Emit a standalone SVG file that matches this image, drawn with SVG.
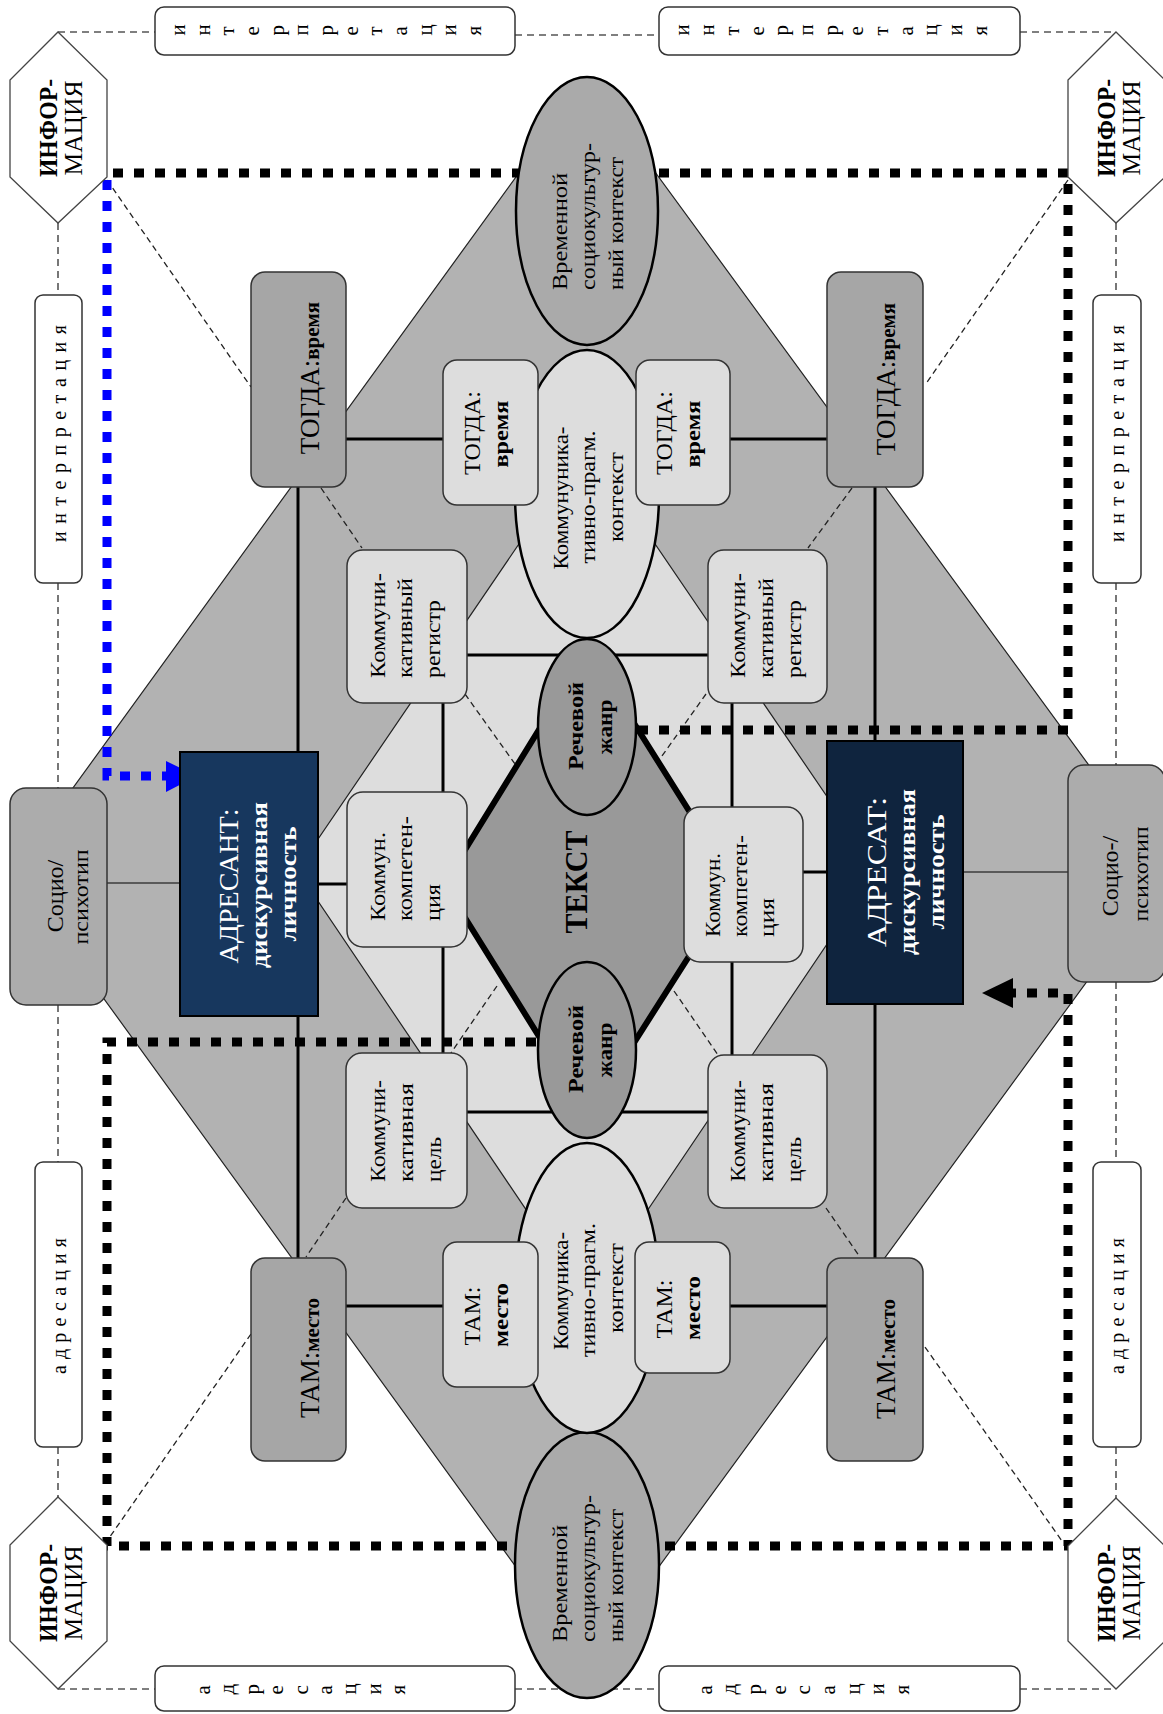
<svg xmlns="http://www.w3.org/2000/svg" width="1163" height="1714" viewBox="0 0 1163 1714">
<style>
.t{font-family:"Liberation Serif","Times New Roman",serif;fill:#000}
.m{font-family:"Liberation Serif","Times New Roman",serif;fill:#000}
.b{font-weight:bold}
.w{fill:#fff}
.mid{text-anchor:middle}
.dk{fill:#a6a6a6;stroke:#333;stroke-width:1.5}
.lt{fill:#dddddd;stroke:#333;stroke-width:1.5}
.wb{fill:#fff;stroke:#333;stroke-width:1.5}
.hx{fill:#fff;stroke:#444;stroke-width:1.3}
.el{stroke:#000;stroke-width:2.5}
.frame{stroke:#555;stroke-width:1.6;stroke-dasharray:7 5;fill:none}
.dash{stroke:#222;stroke-width:1.3;stroke-dasharray:6 4;fill:none}
.sol{stroke:#000;stroke-width:3;fill:none}
.thin{stroke:#000;stroke-width:1.2;fill:none}
.dot{stroke-width:9;stroke-dasharray:10 11;fill:none}
</style>

<g id="background">
<polygon points="587,79 1167,872 587,1665 12,872" fill="#b2b2b2" stroke="#222" stroke-width="1.2"/>
<polygon points="587,444 877,870 587,1300 297,870" fill="#dddddd" stroke="#222" stroke-width="1.2"/>
</g>

<g id="text-core-shape">
<polygon points="588,650 735,884 588,1115 444,884" fill="#999999" stroke="#000" stroke-width="6"/>
</g>

<g id="connectors">
<line class="frame" x1="58" y1="32" x2="155" y2="32"/>
<line class="frame" x1="515" y1="35" x2="659" y2="35"/>
<line class="frame" x1="1020" y1="32" x2="1116" y2="32"/>
<line class="frame" x1="58" y1="1689" x2="155" y2="1689"/>
<line class="frame" x1="515" y1="1689" x2="659" y2="1689"/>
<line class="frame" x1="1020" y1="1689" x2="1116" y2="1689"/>
<line class="frame" x1="58" y1="223" x2="58" y2="295"/>
<line class="frame" x1="58" y1="583" x2="58" y2="788"/>
<line class="frame" x1="58" y1="1005" x2="58" y2="1162"/>
<line class="frame" x1="58" y1="1447" x2="58" y2="1497"/>
<line class="frame" x1="1116" y1="223" x2="1116" y2="295"/>
<line class="frame" x1="1116" y1="583" x2="1116" y2="765"/>
<line class="frame" x1="1116" y1="982" x2="1116" y2="1162"/>
<line class="frame" x1="1116" y1="1447" x2="1116" y2="1499"/>

<line class="dash" x1="107" y1="180" x2="251" y2="387"/>
<line class="dash" x1="1068" y1="180" x2="925" y2="385"/>
<line class="dash" x1="321" y1="488" x2="362" y2="548"/>
<line class="dash" x1="852" y1="488" x2="808" y2="548"/>
<line class="dash" x1="465" y1="694" x2="515" y2="764"/>
<line class="dash" x1="706" y1="694" x2="662" y2="756"/>
<line class="dash" x1="497" y1="986" x2="451" y2="1053"/>
<line class="dash" x1="674" y1="991" x2="718" y2="1055"/>
<line class="dash" x1="346" y1="1198" x2="306" y2="1257"/>
<line class="dash" x1="826" y1="1208" x2="860" y2="1257"/>
<line class="dash" x1="251" y1="1334" x2="107" y2="1541"/>
<line class="dash" x1="925" y1="1347" x2="1062" y2="1541"/>

<line class="sol" x1="298" y1="487" x2="298" y2="752"/>
<line class="sol" x1="298" y1="1016" x2="298" y2="1258"/>
<line class="sol" x1="875" y1="487" x2="875" y2="741"/>
<line class="sol" x1="875" y1="1004" x2="875" y2="1258"/>
<line class="sol" x1="346" y1="439" x2="443" y2="439"/>
<line class="sol" x1="730" y1="439" x2="827" y2="439"/>
<line class="sol" x1="346" y1="1306" x2="443" y2="1306"/>
<line class="sol" x1="730" y1="1306" x2="827" y2="1306"/>
<line class="sol" x1="467" y1="655" x2="708" y2="655"/>
<line class="sol" x1="443" y1="703" x2="443" y2="792"/>
<line class="sol" x1="732" y1="703" x2="732" y2="807"/>
<line class="sol" x1="443" y1="947" x2="443" y2="1053"/>
<line class="sol" x1="732" y1="962" x2="732" y2="1055"/>
<line class="sol" x1="467" y1="1112" x2="708" y2="1112"/>
<line class="sol" x1="318" y1="884" x2="347" y2="884"/>
<line class="sol" x1="803" y1="872" x2="827" y2="872"/>
<line class="thin" x1="88" y1="883" x2="180" y2="883"/>
<line class="thin" x1="963" y1="872" x2="1068" y2="872"/>

<path class="dot" stroke="#000" d="M638 730 H1068 V173 H107"/>
<path class="dot" stroke="#000" d="M536 1042 H107 V1546 H1068 V993 H1013"/>
<polygon points="1013,978 1013,1008 982,993" fill="#000"/>
<path class="dot" stroke="#0000ff" d="M107 180 V776 H166"/>
<polygon points="166,761 166,792 197,776" fill="#0000ff"/>
</g>

<g id="node-time-top">
<ellipse class="el" cx="587" cy="211" rx="71" ry="134" fill="#aaaaaa"/>
<text class="m" font-size="22" transform="translate(567,290) rotate(-90)" textLength="117" lengthAdjust="spacingAndGlyphs">Временной</text>
<text class="m" font-size="22" transform="translate(595,290) rotate(-90)" textLength="147" lengthAdjust="spacingAndGlyphs">социокультур-</text>
<text class="m" font-size="22" transform="translate(623,290) rotate(-90)" textLength="133" lengthAdjust="spacingAndGlyphs">ный контекст</text>
</g>

<g id="node-time-bottom">
<ellipse class="el" cx="587" cy="1565" rx="72" ry="133" fill="#aaaaaa"/>
<text class="m" font-size="22" transform="translate(567,1642) rotate(-90)" textLength="117" lengthAdjust="spacingAndGlyphs">Временной</text>
<text class="m" font-size="22" transform="translate(595,1642) rotate(-90)" textLength="147" lengthAdjust="spacingAndGlyphs">социокультур-</text>
<text class="m" font-size="22" transform="translate(623,1642) rotate(-90)" textLength="133" lengthAdjust="spacingAndGlyphs">ный контекст</text>
</g>

<g id="node-comm-top">
<ellipse class="el" cx="587" cy="494" rx="72" ry="144" fill="#dddddd"/>
<text class="m mid" font-size="22" transform="translate(568,498) rotate(-90)" textLength="143" lengthAdjust="spacingAndGlyphs">Коммунуника-</text>
<text class="m mid" font-size="22" transform="translate(595,497) rotate(-90)" textLength="133" lengthAdjust="spacingAndGlyphs">тивно-прагм.</text>
<text class="m mid" font-size="22" transform="translate(623,497) rotate(-90)" textLength="90" lengthAdjust="spacingAndGlyphs">контекст</text>
</g>

<g id="node-comm-bottom">
<ellipse class="el" cx="587" cy="1288" rx="72" ry="145" fill="#dddddd"/>
<text class="m mid" font-size="22" transform="translate(568,1291) rotate(-90)" textLength="118" lengthAdjust="spacingAndGlyphs">Коммуника-</text>
<text class="m mid" font-size="22" transform="translate(595,1290) rotate(-90)" textLength="134" lengthAdjust="spacingAndGlyphs">тивно-прагм.</text>
<text class="m mid" font-size="22" transform="translate(623,1288) rotate(-90)" textLength="90" lengthAdjust="spacingAndGlyphs">контекст</text>
</g>

<g id="node-genre-top">
<ellipse class="el" cx="587" cy="727" rx="49" ry="88" fill="#999999"/>
<text class="t b mid" font-size="22" transform="translate(583,726) rotate(-90)" textLength="88" lengthAdjust="spacingAndGlyphs">Речевой</text>
<text class="t b mid" font-size="22" transform="translate(612,727) rotate(-90)" textLength="55" lengthAdjust="spacingAndGlyphs">жанр</text>
</g>

<g id="node-genre-bottom">
<ellipse class="el" cx="587" cy="1050" rx="49" ry="88" fill="#999999"/>
<text class="t b mid" font-size="22" transform="translate(583,1049) rotate(-90)" textLength="88" lengthAdjust="spacingAndGlyphs">Речевой</text>
<text class="t b mid" font-size="22" transform="translate(612,1050) rotate(-90)" textLength="55" lengthAdjust="spacingAndGlyphs">жанр</text>
</g>

<g id="node-text">
<text class="t b mid" font-size="32" transform="translate(587,882) rotate(-90)" textLength="103" lengthAdjust="spacingAndGlyphs">ТЕКСТ</text>
</g>

<g id="node-togda-outer-left">
<rect class="dk" x="251" y="272" width="95" height="215" rx="14"/>
<text class="mid" transform="translate(319,378) rotate(-90)"><tspan class="t" font-size="27">ТОГДА:</tspan><tspan class="m b" font-size="21">время</tspan></text>
</g>
<g id="node-togda-outer-right">
<rect class="dk" x="827" y="272" width="96" height="215" rx="14"/>
<text class="mid" transform="translate(895,379) rotate(-90)"><tspan class="t" font-size="27">ТОГДА:</tspan><tspan class="m b" font-size="21">время</tspan></text>
</g>
<g id="node-tam-outer-left">
<rect class="dk" x="251" y="1258" width="95" height="203" rx="14"/>
<text class="mid" transform="translate(319,1358) rotate(-90)"><tspan class="t" font-size="27">ТАМ:</tspan><tspan class="m b" font-size="21">место</tspan></text>
</g>
<g id="node-tam-outer-right">
<rect class="dk" x="827" y="1258" width="96" height="203" rx="14"/>
<text class="mid" transform="translate(895,1359) rotate(-90)"><tspan class="t" font-size="27">ТАМ:</tspan><tspan class="m b" font-size="21">место</tspan></text>
</g>

<g id="node-togda-inner-left">
<rect class="lt" x="443" y="360" width="95" height="145" rx="14"/>
<text class="t mid" font-size="24" transform="translate(480,433) rotate(-90)">ТОГДА:</text>
<text class="m b mid" font-size="22" transform="translate(508,434) rotate(-90)" textLength="67" lengthAdjust="spacingAndGlyphs">время</text>
</g>
<g id="node-togda-inner-right">
<rect class="lt" x="636" y="360" width="94" height="145" rx="14"/>
<text class="t mid" font-size="24" transform="translate(672,433) rotate(-90)">ТОГДА:</text>
<text class="m b mid" font-size="22" transform="translate(700,434) rotate(-90)" textLength="67" lengthAdjust="spacingAndGlyphs">время</text>
</g>
<g id="node-tam-inner-left">
<rect class="lt" x="443" y="1242" width="95" height="145" rx="14"/>
<text class="t mid" font-size="24" transform="translate(480,1316) rotate(-90)">ТАМ:</text>
<text class="m b mid" font-size="22" transform="translate(508,1315) rotate(-90)" textLength="64" lengthAdjust="spacingAndGlyphs">место</text>
</g>
<g id="node-tam-inner-right">
<rect class="lt" x="635" y="1242" width="95" height="131" rx="14"/>
<text class="t mid" font-size="24" transform="translate(672,1309) rotate(-90)">ТАМ:</text>
<text class="m b mid" font-size="22" transform="translate(700,1308) rotate(-90)" textLength="64" lengthAdjust="spacingAndGlyphs">место</text>
</g>

<g id="node-register-left">
<rect class="lt" x="347" y="550" width="120" height="153" rx="16"/>
<text class="m" font-size="22" transform="translate(385,678) rotate(-90)" textLength="105" lengthAdjust="spacingAndGlyphs">Коммуни-</text>
<text class="m" font-size="22" transform="translate(412,678) rotate(-90)" textLength="100" lengthAdjust="spacingAndGlyphs">кативный</text>
<text class="m" font-size="22" transform="translate(440,678) rotate(-90)" textLength="78" lengthAdjust="spacingAndGlyphs">регистр</text>
</g>
<g id="node-register-right">
<rect class="lt" x="708" y="550" width="119" height="153" rx="16"/>
<text class="m" font-size="22" transform="translate(745,678) rotate(-90)" textLength="105" lengthAdjust="spacingAndGlyphs">Коммуни-</text>
<text class="m" font-size="22" transform="translate(773,678) rotate(-90)" textLength="100" lengthAdjust="spacingAndGlyphs">кативный</text>
<text class="m" font-size="22" transform="translate(801,678) rotate(-90)" textLength="78" lengthAdjust="spacingAndGlyphs">регистр</text>
</g>

<g id="node-competence-left">
<rect class="lt" x="347" y="792" width="120" height="155" rx="16"/>
<text class="m" font-size="22" transform="translate(385,921) rotate(-90)" textLength="89" lengthAdjust="spacingAndGlyphs">Коммун.</text>
<text class="m" font-size="22" transform="translate(412,921) rotate(-90)" textLength="105" lengthAdjust="spacingAndGlyphs">компетен-</text>
<text class="m" font-size="22" transform="translate(440,921) rotate(-90)" textLength="37" lengthAdjust="spacingAndGlyphs">ция</text>
</g>
<g id="node-competence-right">
<rect class="lt" x="684" y="807" width="119" height="155" rx="16"/>
<text class="m" font-size="22" transform="translate(720,937) rotate(-90)" textLength="84" lengthAdjust="spacingAndGlyphs">Коммун.</text>
<text class="m" font-size="22" transform="translate(747,937) rotate(-90)" textLength="102" lengthAdjust="spacingAndGlyphs">компетен-</text>
<text class="m" font-size="22" transform="translate(774,937) rotate(-90)" textLength="39" lengthAdjust="spacingAndGlyphs">ция</text>
</g>

<g id="node-goal-left">
<rect class="lt" x="346" y="1053" width="121" height="155" rx="16"/>
<text class="m" font-size="22" transform="translate(385,1182) rotate(-90)" textLength="102" lengthAdjust="spacingAndGlyphs">Коммуни-</text>
<text class="m" font-size="22" transform="translate(413,1182) rotate(-90)" textLength="99" lengthAdjust="spacingAndGlyphs">кативная</text>
<text class="m" font-size="22" transform="translate(441,1182) rotate(-90)" textLength="45" lengthAdjust="spacingAndGlyphs">цель</text>
</g>
<g id="node-goal-right">
<rect class="lt" x="708" y="1055" width="119" height="153" rx="16"/>
<text class="m" font-size="22" transform="translate(745,1182) rotate(-90)" textLength="102" lengthAdjust="spacingAndGlyphs">Коммуни-</text>
<text class="m" font-size="22" transform="translate(773,1182) rotate(-90)" textLength="99" lengthAdjust="spacingAndGlyphs">кативная</text>
<text class="m" font-size="22" transform="translate(801,1182) rotate(-90)" textLength="45" lengthAdjust="spacingAndGlyphs">цель</text>
</g>

<g id="node-addresser">
<rect x="180" y="752" width="138" height="264" fill="#17375e" stroke="#000" stroke-width="2"/>
<text class="t w mid" font-size="27" transform="translate(238,886) rotate(-90)" textLength="155" lengthAdjust="spacingAndGlyphs">АДРЕСАНТ:</text>
<text class="t w b mid" font-size="24" transform="translate(267,885) rotate(-90)" textLength="166" lengthAdjust="spacingAndGlyphs">дискурсивная</text>
<text class="t w b mid" font-size="24" transform="translate(296,884) rotate(-90)" textLength="115" lengthAdjust="spacingAndGlyphs">личность</text>
</g>
<g id="node-addressee">
<rect x="827" y="741" width="136" height="263" fill="#0f243e" stroke="#000" stroke-width="2"/>
<text class="t w mid" font-size="27" transform="translate(886,872) rotate(-90)" textLength="150" lengthAdjust="spacingAndGlyphs">АДРЕСАТ:</text>
<text class="t w b mid" font-size="24" transform="translate(915,872) rotate(-90)" textLength="166" lengthAdjust="spacingAndGlyphs">дискурсивная</text>
<text class="t w b mid" font-size="24" transform="translate(944,872) rotate(-90)" textLength="115" lengthAdjust="spacingAndGlyphs">личность</text>
</g>

<g id="node-socio-left">
<rect x="10" y="788" width="97" height="217" rx="16" fill="#acacac" stroke="#333" stroke-width="1.5"/>
<text class="t mid" font-size="24" transform="translate(63,896) rotate(-90)">Социо/</text>
<text class="m mid" font-size="21" transform="translate(88,897) rotate(-90)" textLength="95" lengthAdjust="spacingAndGlyphs">психотип</text>
</g>
<g id="node-socio-right">
<rect x="1068" y="765" width="97" height="217" rx="16" fill="#acacac" stroke="#333" stroke-width="1.5"/>
<text class="t mid" font-size="24" transform="translate(1118,876) rotate(-90)">Социо-/</text>
<text class="m mid" font-size="21" transform="translate(1148,874) rotate(-90)" textLength="95" lengthAdjust="spacingAndGlyphs">психотип</text>
</g>

<g id="node-interp-left-v">
<rect class="wb" x="35" y="295" width="47" height="288" rx="8"/>
<text class="m" font-size="20" transform="translate(66,542) rotate(-90)" textLength="217" lengthAdjust="spacing">интерпретация</text>
</g>
<g id="node-interp-right-v">
<rect class="wb" x="1093" y="295" width="48" height="288" rx="8"/>
<text class="m" font-size="20" transform="translate(1124,542) rotate(-90)" textLength="217" lengthAdjust="spacing">интерпретация</text>
</g>
<g id="node-addr-left-v">
<rect class="wb" x="35" y="1162" width="47" height="285" rx="8"/>
<text class="m" font-size="20" transform="translate(66,1374) rotate(-90)" textLength="136" lengthAdjust="spacing">адресация</text>
</g>
<g id="node-addr-right-v">
<rect class="wb" x="1093" y="1162" width="48" height="285" rx="8"/>
<text class="m" font-size="20" transform="translate(1124,1374) rotate(-90)" textLength="136" lengthAdjust="spacing">адресация</text>
</g>

<g id="node-interp-top-left">
<rect class="wb" x="155" y="7" width="360" height="48" rx="9"/>
<text class="m" font-size="21" rotate="-90" x="185 209.7 234.3 259 283.7 308.3 333 357.7 382.3 407 431.7 456.3 481" y="35.5">интерпретация</text>
</g>
<g id="node-interp-top-right">
<rect class="wb" x="659" y="7" width="361" height="48" rx="9"/>
<text class="m" font-size="21" rotate="-90" x="689 713.8 738.7 763.5 788.3 813.2 838 862.8 887.7 912.5 937.3 962.2 987" y="35.5">интерпретация</text>
</g>
<g id="node-addr-bottom-left">
<rect class="wb" x="155" y="1666" width="360" height="45" rx="9"/>
<text class="m" font-size="21" rotate="-90" x="210 234.4 258.8 283.2 307.6 332 356.4 380.8 405.2" y="1694.5">адресация</text>
</g>
<g id="node-addr-bottom-right">
<rect class="wb" x="659" y="1666" width="361" height="45" rx="9"/>
<text class="m" font-size="21" rotate="-90" x="711.5 736.2 760.9 785.6 810.3 835 859.7 884.4 909.1" y="1694.5">адресация</text>
</g>

<g id="node-info-tl">
<polygon class="hx" points="58,32 107,80 107,177 58,223 10,177 10,80"/>
<text class="t b mid" font-size="26" transform="translate(57,128) rotate(-90)" textLength="98" lengthAdjust="spacingAndGlyphs">ИНФОР-</text>
<text class="t mid" font-size="26" transform="translate(82,128) rotate(-90)" textLength="95" lengthAdjust="spacingAndGlyphs">МАЦИЯ</text>
</g>
<g id="node-info-tr">
<polygon class="hx" points="1116,32 1165,80 1165,177 1116,223 1068,177 1068,80"/>
<text class="t b mid" font-size="26" transform="translate(1115,128) rotate(-90)" textLength="98" lengthAdjust="spacingAndGlyphs">ИНФОР-</text>
<text class="t mid" font-size="26" transform="translate(1140,128) rotate(-90)" textLength="95" lengthAdjust="spacingAndGlyphs">МАЦИЯ</text>
</g>
<g id="node-info-bl">
<polygon class="hx" points="58,1497 107,1545 107,1641 58,1689 10,1641 10,1545"/>
<text class="t b mid" font-size="26" transform="translate(57,1593) rotate(-90)" textLength="98" lengthAdjust="spacingAndGlyphs">ИНФОР-</text>
<text class="t mid" font-size="26" transform="translate(82,1593) rotate(-90)" textLength="95" lengthAdjust="spacingAndGlyphs">МАЦИЯ</text>
</g>
<g id="node-info-br">
<polygon class="hx" points="1116,1498 1165,1546 1165,1641 1116,1689 1068,1641 1068,1546"/>
<text class="t b mid" font-size="26" transform="translate(1115,1593) rotate(-90)" textLength="98" lengthAdjust="spacingAndGlyphs">ИНФОР-</text>
<text class="t mid" font-size="26" transform="translate(1140,1593) rotate(-90)" textLength="95" lengthAdjust="spacingAndGlyphs">МАЦИЯ</text>
</g>
</svg>
